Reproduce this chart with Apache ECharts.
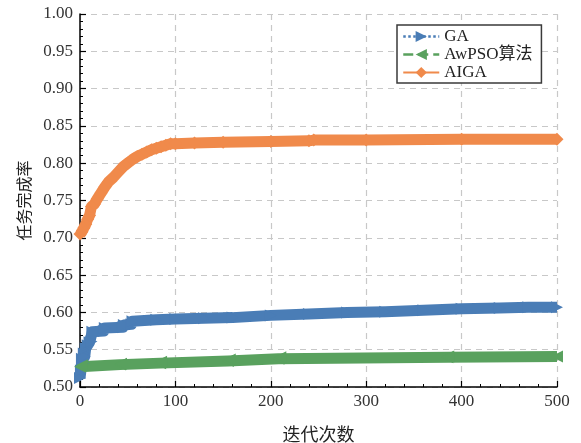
<!DOCTYPE html>
<html><head><meta charset="utf-8">
<script src="https://cdn.jsdelivr.net/npm/echarts@6/dist/echarts.min.js"></script>
<style>html,body{margin:0;padding:0;background:#fff}#c{width:581px;height:443px}</style>
</head><body><div id="c"></div>
<script>
// ---- data ----
const seriesNames = ['GA', 'AwPSO算法', 'AIGA'];
const xName = '迭代次数';
const yName = '任务完成率';
const xMin = 0, xMax = 500, xStep = 100;
const yMin = 0.50, yMax = 1.00, yStep = 0.05;

const gaData = [
  [0,0.512],[1,0.522],[2,0.538],[3,0.532],[4,0.545],[5,0.541],[6,0.552],[8,0.556],
  [10,0.560],[12,0.561],[13,0.574],[25,0.575],[26,0.579],[45,0.580],[46,0.583],
  [54,0.584],[55,0.588],[80,0.590],[100,0.591],[130,0.592],[160,0.593],[200,0.596],
  [240,0.598],[280,0.600],[320,0.601],[360,0.603],[400,0.605],[440,0.606],[470,0.607],[500,0.607]
];
const awpsoData = [
  [0,0.527],[2,0.529],[42,0.530],[43,0.531],[84,0.532],[85,0.534],[155,0.535],
  [157,0.537],[208,0.538],[210,0.540],[385,0.540],[386,0.541],[500,0.541]
];
const aigaData = [
  [0,0.705],[2,0.708],[4,0.713],[6,0.718],[8,0.725],[10,0.730],[12,0.742],[15,0.745],
  [18,0.752],[22,0.760],[26,0.768],[30,0.775],[35,0.781],[40,0.788],[45,0.795],
  [50,0.800],[55,0.805],[60,0.809],[65,0.812],[70,0.815],[75,0.818],[80,0.820],
  [85,0.822],[90,0.824],[95,0.826],[100,0.826],[120,0.827],[150,0.828],[200,0.829],
  [240,0.830],[245,0.831],[300,0.831],[400,0.832],[500,0.832]
];

// ---- styling ----
const colors = ['#4a7db6', '#59a15e', '#f08a4b'];
const serif = '"Liberation Serif", "Times New Roman", "Noto Sans CJK SC", serif';
const cjk = '"Noto Sans CJK SC", "Liberation Serif", serif';

function band(name, data, color, symbol, rot, size) {
  return {
    name, type: 'line', data, symbol, symbolRotate: rot, symbolSize: size,
    showSymbol: true, showAllSymbol: true, clip: false, animation: false,
    lineStyle: { width: 11, color, cap: 'butt', join: 'round' },
    itemStyle: { color, borderWidth: 0 },
    emphasis: { disabled: true }
  };
}

const chart = echarts.init(document.getElementById('c'), null, { renderer: 'canvas' });
chart.setOption({
  animation: false,
  backgroundColor: '#fff',
  grid: { left: 80, right: 24, top: 14, bottom: 56, outerBoundsMode: 'none', containLabel: false },
  legend: {
    orient: 'vertical', left: 397, top: 25,
    backgroundColor: '#fff', borderColor: '#3a3a3a', borderWidth: 1.5,
    padding: [3, 9, 2, 5], itemGap: 1, itemWidth: 36, itemHeight: 14,
    textStyle: { fontFamily: serif, fontSize: 17, color: '#222' },
    data: [
      { name: seriesNames[0], lineStyle: { type: 'dotted', width: 2.5 } },
      { name: seriesNames[1], lineStyle: { type: 'dashed', width: 2.5 } },
      { name: seriesNames[2], lineStyle: { type: 'solid', width: 2 } }
    ]
  },
  xAxis: {
    type: 'value', min: xMin, max: xMax, interval: xStep,
    name: xName, nameLocation: 'middle', nameGap: 38,
    nameTextStyle: { fontFamily: cjk, fontSize: 18, color: '#222' },
    axisLine: { show: true, lineStyle: { color: '#000', width: 1.5 } },
    axisTick: { show: true, inside: true, length: 6, lineStyle: { color: '#000', width: 1.2 } },
    minorTick: { show: true, splitNumber: 5, length: 3, lineStyle: { color: '#000', width: 1 } },
    axisLabel: { fontFamily: serif, fontSize: 17, color: '#333', margin: 6 },
    splitLine: { show: true, lineStyle: { color: '#c8c8c8', width: 1.2, type: [6, 5] } }
  },
  yAxis: {
    type: 'value', min: yMin, max: yMax, interval: yStep,
    name: yName, nameLocation: 'middle', nameGap: 48,
    nameTextStyle: { fontFamily: cjk, fontSize: 16, color: '#222' },
    axisLine: { show: true, lineStyle: { color: '#000', width: 1.5 } },
    axisTick: { show: true, inside: true, length: 6, lineStyle: { color: '#000', width: 1.2 } },
    minorTick: { show: true, splitNumber: 5, length: 3, lineStyle: { color: '#000', width: 1 } },
    axisLabel: { fontFamily: serif, fontSize: 17, color: '#333', margin: 7,
      formatter: v => v.toFixed(2) },
    splitLine: { show: true, lineStyle: { color: '#c8c8c8', width: 1.2, type: [6, 5] } }
  },
  series: [
    band(seriesNames[0], gaData, colors[0], 'triangle', -90, 12),
    band(seriesNames[1], awpsoData, colors[1], 'triangle', 90, 12),
    band(seriesNames[2], aigaData, colors[2], 'diamond', 0, 13)
  ]
});
</script>
</body></html>
